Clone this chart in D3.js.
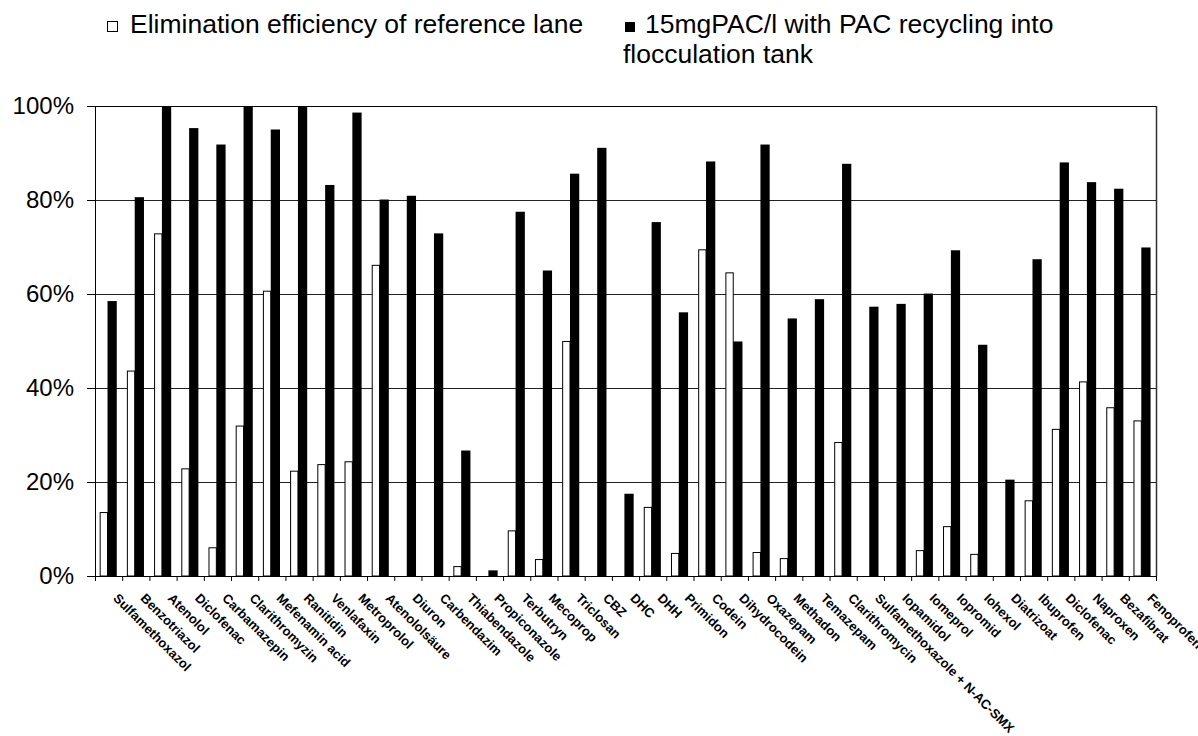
<!DOCTYPE html>
<html lang="en">
<head>
	<meta charset="utf-8">
	<title>Elimination efficiency</title>
	<script src="https://cdn.jsdelivr.net/npm/d3@7"></script>
	<style>
		body { margin: 0; background: #fff; }
		text { font-family: "Liberation Sans", Arial, sans-serif; fill: #000; }
	</style>
</head>
<body>
	<script>
		var w = 1198;
		var h = 736;

		// substances on the x axis (Diclofenac is listed twice in the original)
		var substances = ["Sulfamethoxazol", "Benzotriazol", "Atenolol", "Diclofenac", "Carbamazepin",
			"Clarithromyzin", "Mefenamin acid", "Ranitidin", "Venlafaxin", "Metroprolol", "Atenololsäure",
			"Diuron", "Carbendazim", "Thiabendazole", "Propiconazole", "Terbutryn", "Mecoprop", "Triclosan",
			"CBZ", "DHC", "DHH", "Primidon", "Codein", "Dihydrocodein", "Oxazepam", "Methadon", "Temazepam",
			"Clarithromycin", "Sulfamethoxazole + N-AC-SMX", "Iopamidol", "Iomeprol", "Iopromid", "Iohexol",
			"Diatrizoat", "Ibuprofen", "Diclofenac", "Naproxen", "Bezafibrat", "Fenoprofen"];

		// elimination efficiency of reference lane (fraction)
		var reference = [0.135, 0.436, 0.728, 0.228, 0.060, 0.319, 0.606, 0.223, 0.237, 0.243, 0.661,
			0, 0, 0.020, 0, 0.096, 0.035, 0.499,
			0, 0, 0.146, 0.048, 0.694, 0.645, 0.050, 0.037, 0,
			0.284, 0, 0, 0.054, 0.105, 0.046,
			0, 0.160, 0.312, 0.413, 0.358, 0.330];

		// 15mgPAC/l with PAC recycling into flocculation tank (fraction)
		var pac = [0.585, 0.806, 1.0, 0.953, 0.918, 1.0, 0.950, 1.0, 0.832, 0.986, 0.801,
			0.809, 0.729, 0.267, 0.012, 0.775, 0.650, 0.856,
			0.911, 0.175, 0.753, 0.561, 0.882, 0.499, 0.918, 0.548, 0.589,
			0.877, 0.573, 0.579, 0.601, 0.693, 0.492,
			0.205, 0.674, 0.880, 0.838, 0.824, 0.699];

		var yTicks = [0, 0.2, 0.4, 0.6, 0.8, 1.0];

		var legendLabels = ["Elimination efficiency of reference lane",
			"15mgPAC/l with PAC recycling into", "flocculation tank"];

		var margin = { top: 106, right: 42, bottom: 160, left: 95 };
		var plotW = w - margin.left - margin.right;
		var plotH = h - margin.top - margin.bottom;

		var svg = d3.select("body")
					.append("svg")
					.attr("width", w)
					.attr("height", h);

		var x = d3.scaleBand()
				  .domain(d3.range(substances.length))
				  .range([0, plotW])
				  .padding(0);

		var y = d3.scaleLinear()
				  .domain([0, 1])
				  .range([plotH, 0]);

		var g = svg.append("g")
				   .attr("transform", "translate(" + margin.left + "," + margin.top + ")");

		// horizontal grid lines
		g.selectAll(".grid")
		 .data(yTicks.slice(1))
		 .enter()
		 .append("line")
		 .attr("x1", 0).attr("x2", plotW)
		 .attr("y1", function(d) { return Math.round(y(d)) + 0.5; })
		 .attr("y2", function(d) { return Math.round(y(d)) + 0.5; })
		 .attr("stroke", "#222")
		 .attr("stroke-width", 1);

		// right border of plot area
		g.append("line")
		 .attr("x1", plotW + 0.5).attr("x2", plotW + 0.5)
		 .attr("y1", 0).attr("y2", plotH)
		 .attr("stroke", "#333")
		 .attr("stroke-width", 1.5);

		var bw = x.bandwidth();

		// reference lane bars (white with outline)
		g.selectAll(".ref")
		 .data(reference)
		 .enter()
		 .append("rect")
		 .attr("x", function(d, i) { return x(i) + bw * 0.19; })
		 .attr("width", bw * 0.27)
		 .attr("y", function(d) { return y(d); })
		 .attr("height", function(d) { return plotH - y(d); })
		 .attr("fill", "#fff")
		 .attr("stroke", function(d) { return d > 0 ? "#000" : "none"; })
		 .attr("stroke-width", 1);

		// PAC bars (black)
		g.selectAll(".pac")
		 .data(pac)
		 .enter()
		 .append("rect")
		 .attr("x", function(d, i) { return x(i) + bw * 0.46; })
		 .attr("width", bw * 0.34)
		 .attr("y", function(d) { return y(d); })
		 .attr("height", function(d) { return plotH - y(d); })
		 .attr("fill", "#000");

		// y axis
		var yAxis = d3.axisLeft(y)
					  .tickValues(yTicks)
					  .tickSize(8)
					  .tickPadding(13)
					  .tickFormat(d3.format(".0%"));

		var yg = g.append("g").call(yAxis);
		yg.select(".domain").attr("stroke", "#000");
		yg.selectAll("text")
		  .style("font-size", "24px")
		  .style("font-family", "Liberation Sans, Arial, sans-serif");

		// x axis: ticks at category boundaries
		g.append("line")
		 .attr("x1", -8).attr("x2", plotW)
		 .attr("y1", plotH + 0.5).attr("y2", plotH + 0.5)
		 .attr("stroke", "#000");

		g.selectAll(".xtick")
		 .data(d3.range(substances.length + 1))
		 .enter()
		 .append("line")
		 .attr("x1", function(i) { return i * x.step() + 0.5; })
		 .attr("x2", function(i) { return i * x.step() + 0.5; })
		 .attr("y1", plotH).attr("y2", plotH + 5)
		 .attr("stroke", "#000");

		// top border
		g.append("line")
		 .attr("x1", -8).attr("x2", plotW)
		 .attr("y1", 0.5).attr("y2", 0.5)
		 .attr("stroke", "#000")
		 .attr("stroke-width", 1.2);

		// rotated substance labels
		g.selectAll(".xlabel")
		 .data(substances)
		 .enter()
		 .append("text")
		 .attr("transform", function(d, i) {
			 return "translate(" + (x(i) + bw / 2 + 4) + "," + (plotH + 23) + ") rotate(45)";
		 })
		 .style("font-size", "13px")
		 .style("font-weight", "bold")
		 .text(function(d) { return d; });

		// legend
		var legend = svg.append("g");

		legend.append("rect")
			  .attr("x", 107.5).attr("y", 21.5)
			  .attr("width", 10).attr("height", 10)
			  .attr("fill", "#fff")
			  .attr("stroke", "#000");

		legend.append("text")
			  .attr("x", 130).attr("y", 33)
			  .style("font-size", "26.5px")
			  .text(legendLabels[0]);

		legend.append("rect")
			  .attr("x", 625).attr("y", 22)
			  .attr("width", 10).attr("height", 10)
			  .attr("fill", "#000");

		legend.append("text")
			  .attr("x", 645).attr("y", 33)
			  .style("font-size", "26.5px")
			  .text(legendLabels[1]);

		legend.append("text")
			  .attr("x", 623).attr("y", 63)
			  .style("font-size", "26.5px")
			  .text(legendLabels[2]);
	</script>
</body>
</html>
